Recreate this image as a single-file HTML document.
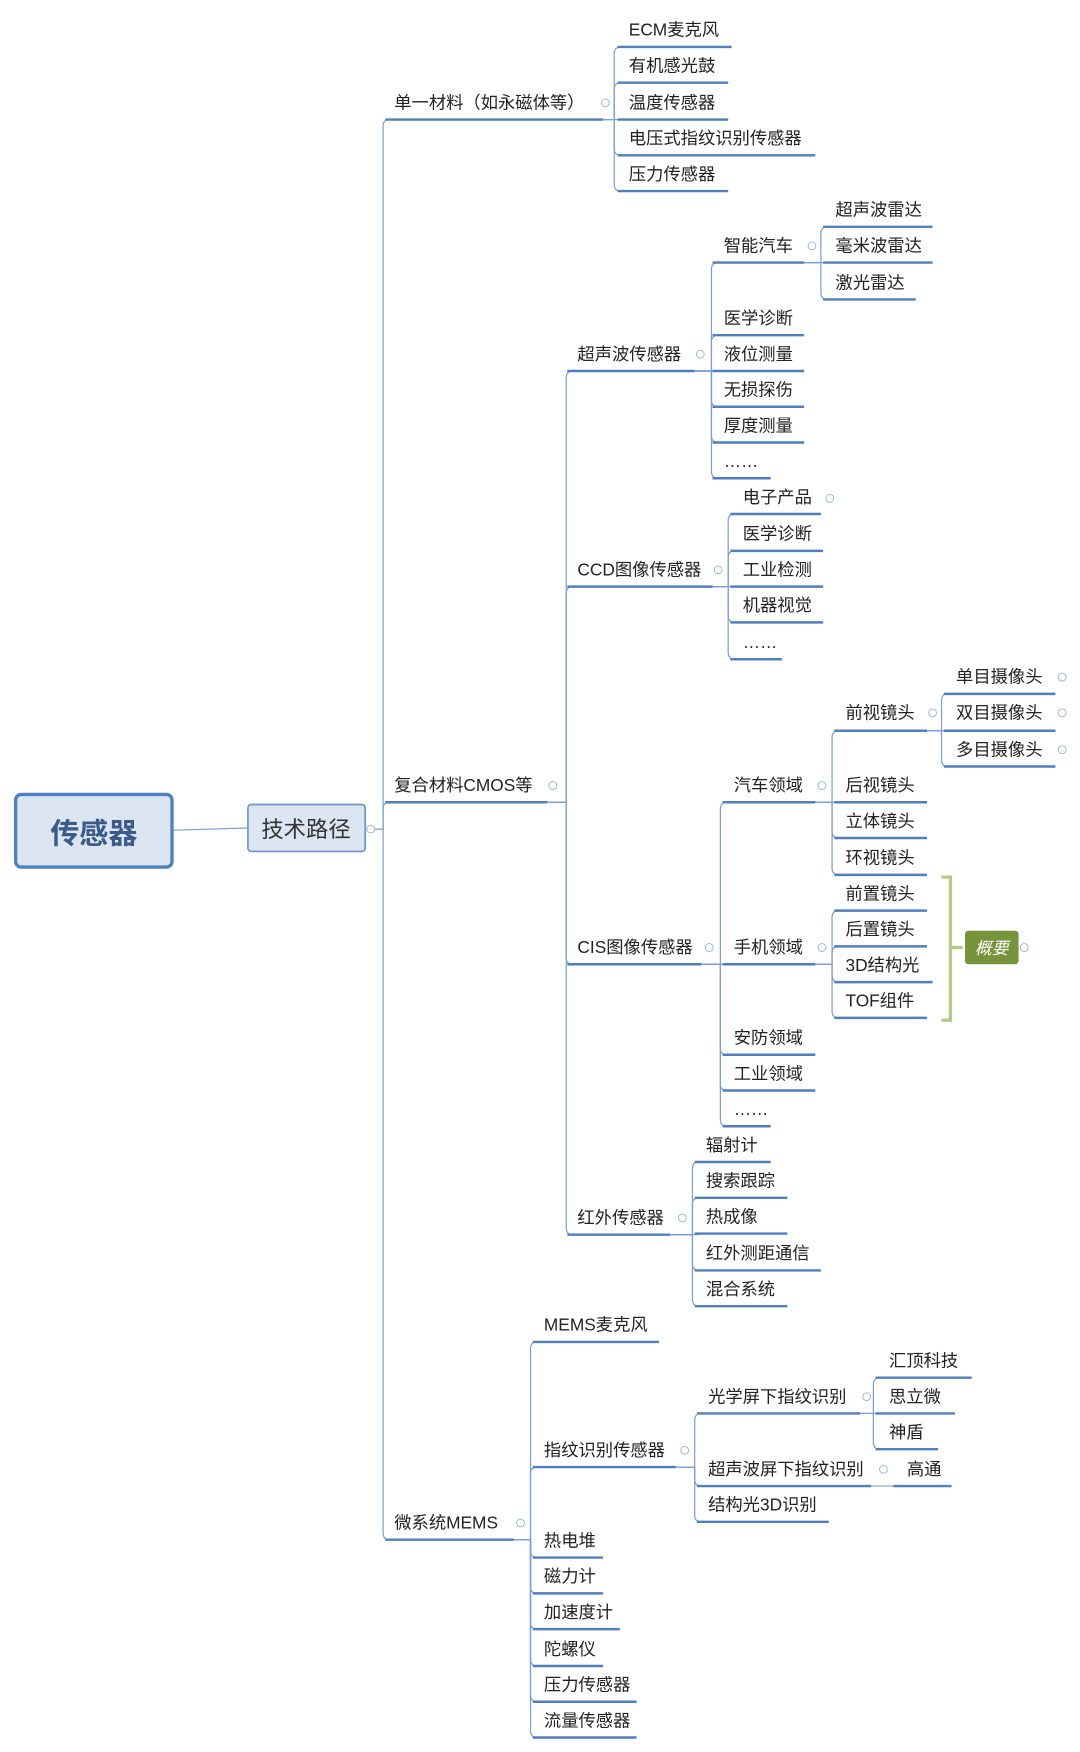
<!DOCTYPE html>
<html><head><meta charset="utf-8"><style>
html,body{margin:0;padding:0;background:#fff;}
svg{display:block;}
text{font-family:"Liberation Sans","Noto Sans CJK SC",sans-serif;font-size:15.5px;fill:#222;}
.u{stroke:#4f7fbe;stroke-width:2.2;}
.c{fill:none;stroke:#7f9fcb;stroke-width:1.1;}
.e{fill:#fff;stroke:#9ab0d0;stroke-width:0.8;}
</style></head><body>
<svg width="1080" height="1752" viewBox="0 0 967 1568" preserveAspectRatio="none" xmlns="http://www.w3.org/2000/svg">
<g class="c">
<path d="M155 743 L222 741"/>
<path d="M336 742 H343 V113 Q343 107 349 107"/>
<path d="M336 742 H343 V724 Q343 718 349 718"/>
<path d="M336 742 H343 V1372 Q343 1378 349 1378"/>
<path d="M540 107 H550 V48 Q550 42 556 42"/>
<path d="M540 107 H550 V80 Q550 74 556 74"/>
<path d="M540 107 H556"/>
<path d="M540 107 H550 V133 Q550 139 556 139"/>
<path d="M540 107 H550 V165 Q550 171 556 171"/>
<path d="M490 718 H507 V338 Q507 332 513 332"/>
<path d="M490 718 H507 V531 Q507 525 513 525"/>
<path d="M490 718 H507 V857 Q507 863 513 863"/>
<path d="M490 718 H507 V1099 Q507 1105 513 1105"/>
<path d="M622 332 H637 V241 Q637 235 643 235"/>
<path d="M622 332 H637 V306 Q637 300 643 300"/>
<path d="M622 332 H643"/>
<path d="M622 332 H637 V358 Q637 364 643 364"/>
<path d="M622 332 H637 V390 Q637 396 643 396"/>
<path d="M622 332 H637 V422 Q637 428 643 428"/>
<path d="M720 235 H735 V209 Q735 203 741 203"/>
<path d="M720 235 H741"/>
<path d="M720 235 H735 V262 Q735 268 741 268"/>
<path d="M638 525 H652 V466 Q652 460 658 460"/>
<path d="M638 525 H652 V499 Q652 493 658 493"/>
<path d="M638 525 H658"/>
<path d="M638 525 H652 V551 Q652 557 658 557"/>
<path d="M638 525 H652 V584 Q652 590 658 590"/>
<path d="M628 863 H645 V724 Q645 718 651 718"/>
<path d="M628 863 H651"/>
<path d="M628 863 H645 V938 Q645 944 651 944"/>
<path d="M628 863 H645 V970 Q645 976 651 976"/>
<path d="M628 863 H645 V1002 Q645 1008 651 1008"/>
<path d="M730 718 H745 V660 Q745 654 751 654"/>
<path d="M730 718 H751"/>
<path d="M730 718 H745 V744 Q745 750 751 750"/>
<path d="M730 718 H745 V777 Q745 783 751 783"/>
<path d="M830 654 H843 V627 Q843 621 849 621"/>
<path d="M830 654 H849"/>
<path d="M830 654 H843 V680 Q843 686 849 686"/>
<path d="M730 863 H745 V821 Q745 815 751 815"/>
<path d="M730 863 H745 V853 Q745 847 751 847"/>
<path d="M730 863 H745 V873 Q745 879 751 879"/>
<path d="M730 863 H745 V905 Q745 911 751 911"/>
<path d="M600 1105 H620 V1046 Q620 1040 626 1040"/>
<path d="M600 1105 H620 V1078 Q620 1072 626 1072"/>
<path d="M600 1105 H626"/>
<path d="M600 1105 H620 V1131 Q620 1137 626 1137"/>
<path d="M600 1105 H620 V1163 Q620 1169 626 1169"/>
<path d="M460 1378 H475 V1207 Q475 1201 481 1201"/>
<path d="M460 1378 H475 V1319 Q475 1313 481 1313"/>
<path d="M460 1378 H475 V1388 Q475 1394 481 1394"/>
<path d="M460 1378 H475 V1420 Q475 1426 481 1426"/>
<path d="M460 1378 H475 V1452 Q475 1458 481 1458"/>
<path d="M460 1378 H475 V1485 Q475 1491 481 1491"/>
<path d="M460 1378 H475 V1517 Q475 1523 481 1523"/>
<path d="M460 1378 H475 V1549 Q475 1555 481 1555"/>
<path d="M605 1313 H622 V1271 Q622 1265 628 1265"/>
<path d="M605 1313 H622 V1324 Q622 1330 628 1330"/>
<path d="M605 1313 H622 V1356 Q622 1362 628 1362"/>
<path d="M770 1265 H782 V1239 Q782 1233 788 1233"/>
<path d="M770 1265 H788"/>
<path d="M770 1265 H782 V1291 Q782 1297 788 1297"/>
<path d="M780 1330 H800"/>
</g>

<rect x="14" y="711" width="140" height="65" rx="5" fill="#dce6f2" stroke="#4f81bd" stroke-width="3"/>
<text x="84" y="755" text-anchor="middle" style="font-size:26px;font-weight:bold;fill:#3a5a8a">传感器</text>
<rect x="222" y="720" width="105" height="42" rx="3" fill="#dce6f2" stroke="#6f93c3" stroke-width="1.5"/>
<text x="274" y="749" text-anchor="middle" style="font-size:20px;fill:#333">技术路径</text>

<g>
<text x="353" y="97">单一材料（如永磁体等）</text><line class="u" x1="345" y1="107" x2="540" y2="107"/>
<text x="353" y="708">复合材料CMOS等</text><line class="u" x1="345" y1="718" x2="490" y2="718"/>
<text x="353" y="1368">微系统MEMS</text><line class="u" x1="345" y1="1378" x2="460" y2="1378"/>

<text x="563" y="32">ECM麦克风</text><line class="u" x1="553" y1="42" x2="655" y2="42"/>
<text x="563" y="64">有机感光鼓</text><line class="u" x1="553" y1="74" x2="652" y2="74"/>
<text x="563" y="97">温度传感器</text><line class="u" x1="553" y1="107" x2="652" y2="107"/>
<text x="563" y="129">电压式指纹识别传感器</text><line class="u" x1="553" y1="139" x2="730" y2="139"/>
<text x="563" y="161">压力传感器</text><line class="u" x1="553" y1="171" x2="652" y2="171"/>

<text x="517" y="322">超声波传感器</text><line class="u" x1="508" y1="332" x2="622" y2="332"/>
<text x="517" y="515">CCD图像传感器</text><line class="u" x1="508" y1="525" x2="638" y2="525"/>
<text x="517" y="853">CIS图像传感器</text><line class="u" x1="508" y1="863" x2="628" y2="863"/>
<text x="517" y="1095">红外传感器</text><line class="u" x1="508" y1="1105" x2="600" y2="1105"/>

<text x="648" y="225">智能汽车</text><line class="u" x1="638" y1="235" x2="720" y2="235"/>
<text x="648" y="290">医学诊断</text><line class="u" x1="638" y1="300" x2="720" y2="300"/>
<text x="648" y="322">液位测量</text><line class="u" x1="638" y1="332" x2="720" y2="332"/>
<text x="648" y="354">无损探伤</text><line class="u" x1="638" y1="364" x2="720" y2="364"/>
<text x="648" y="386">厚度测量</text><line class="u" x1="638" y1="396" x2="720" y2="396"/>
<text x="648" y="418">……</text><line class="u" x1="638" y1="428" x2="690" y2="428"/>

<text x="748" y="193">超声波雷达</text><line class="u" x1="737" y1="203" x2="835" y2="203"/>
<text x="748" y="225">毫米波雷达</text><line class="u" x1="737" y1="235" x2="835" y2="235"/>
<text x="748" y="258">激光雷达</text><line class="u" x1="737" y1="268" x2="820" y2="268"/>

<text x="665" y="450">电子产品</text><line class="u" x1="654" y1="460" x2="735" y2="460"/>
<text x="665" y="483">医学诊断</text><line class="u" x1="654" y1="493" x2="737" y2="493"/>
<text x="665" y="515">工业检测</text><line class="u" x1="654" y1="525" x2="737" y2="525"/>
<text x="665" y="547">机器视觉</text><line class="u" x1="654" y1="557" x2="737" y2="557"/>
<text x="665" y="580">……</text><line class="u" x1="654" y1="590" x2="700" y2="590"/>

<text x="657" y="708">汽车领域</text><line class="u" x1="647" y1="718" x2="730" y2="718"/>
<text x="657" y="853">手机领域</text><line class="u" x1="647" y1="863" x2="730" y2="863"/>
<text x="657" y="934">安防领域</text><line class="u" x1="647" y1="944" x2="730" y2="944"/>
<text x="657" y="966">工业领域</text><line class="u" x1="647" y1="976" x2="730" y2="976"/>
<text x="657" y="998">……</text><line class="u" x1="647" y1="1008" x2="690" y2="1008"/>

<text x="757" y="643">前视镜头</text><line class="u" x1="747" y1="654" x2="830" y2="654"/>
<text x="757" y="708">后视镜头</text><line class="u" x1="747" y1="718" x2="830" y2="718"/>
<text x="757" y="740">立体镜头</text><line class="u" x1="747" y1="750" x2="830" y2="750"/>
<text x="757" y="773">环视镜头</text><line class="u" x1="747" y1="783" x2="830" y2="783"/>

<text x="856" y="611">单目摄像头</text><line class="u" x1="845" y1="621" x2="945" y2="621"/>
<text x="856" y="643">双目摄像头</text><line class="u" x1="845" y1="654" x2="945" y2="654"/>
<text x="856" y="676">多目摄像头</text><line class="u" x1="845" y1="686" x2="945" y2="686"/>

<text x="757" y="805">前置镜头</text><line class="u" x1="747" y1="815" x2="830" y2="815"/>
<text x="757" y="837">后置镜头</text><line class="u" x1="747" y1="847" x2="830" y2="847"/>
<text x="757" y="869">3D结构光</text><line class="u" x1="747" y1="879" x2="835" y2="879"/>
<text x="757" y="901">TOF组件</text><line class="u" x1="747" y1="911" x2="830" y2="911"/>

<text x="632" y="1030">辐射计</text><line class="u" x1="622" y1="1040" x2="690" y2="1040"/>
<text x="632" y="1062">搜索跟踪</text><line class="u" x1="622" y1="1072" x2="705" y2="1072"/>
<text x="632" y="1094">热成像</text><line class="u" x1="622" y1="1104" x2="705" y2="1104"/>
<text x="632" y="1127">红外测距通信</text><line class="u" x1="622" y1="1137" x2="735" y2="1137"/>
<text x="632" y="1159">混合系统</text><line class="u" x1="622" y1="1169" x2="705" y2="1169"/>

<text x="487" y="1191">MEMS麦克风</text><line class="u" x1="477" y1="1201" x2="590" y2="1201"/>
<text x="487" y="1303">指纹识别传感器</text><line class="u" x1="477" y1="1313" x2="605" y2="1313"/>
<text x="487" y="1384">热电堆</text><line class="u" x1="477" y1="1394" x2="540" y2="1394"/>
<text x="487" y="1416">磁力计</text><line class="u" x1="477" y1="1426" x2="540" y2="1426"/>
<text x="487" y="1448">加速度计</text><line class="u" x1="477" y1="1458" x2="555" y2="1458"/>
<text x="487" y="1481">陀螺仪</text><line class="u" x1="477" y1="1491" x2="540" y2="1491"/>
<text x="487" y="1513">压力传感器</text><line class="u" x1="477" y1="1523" x2="570" y2="1523"/>
<text x="487" y="1545">流量传感器</text><line class="u" x1="477" y1="1555" x2="570" y2="1555"/>

<text x="634" y="1255">光学屏下指纹识别</text><line class="u" x1="624" y1="1265" x2="770" y2="1265"/>
<text x="634" y="1320">超声波屏下指纹识别</text><line class="u" x1="624" y1="1330" x2="780" y2="1330"/>
<text x="634" y="1352">结构光3D识别</text><line class="u" x1="624" y1="1362" x2="742" y2="1362"/>

<text x="796" y="1223">汇顶科技</text><line class="u" x1="784" y1="1233" x2="870" y2="1233"/>
<text x="796" y="1255">思立微</text><line class="u" x1="784" y1="1265" x2="855" y2="1265"/>
<text x="796" y="1287">神盾</text><line class="u" x1="784" y1="1297" x2="840" y2="1297"/>
<text x="812" y="1320">高通</text><line class="u" x1="800" y1="1330" x2="852" y2="1330"/>
</g>

<path d="M843 785 H851 V913 H843 M851 848 H862" fill="none" stroke="#b5c98a" stroke-width="3"/>
<rect x="864" y="833" width="48" height="30" rx="3" fill="#77933c"/>
<text x="888" y="854" text-anchor="middle" style="fill:#fff;font-style:italic;font-size:15px">概要</text>

<g class="e">
<circle cx="332" cy="742" r="3.5"/><circle cx="542" cy="92" r="3.5"/><circle cx="495" cy="703" r="3.5"/>
<circle cx="466" cy="1363" r="3.5"/><circle cx="627" cy="317" r="3.5"/><circle cx="643" cy="510" r="3.5"/>
<circle cx="635" cy="848" r="3.5"/><circle cx="611" cy="1090" r="3.5"/><circle cx="727" cy="220" r="3.5"/>
<circle cx="743" cy="446" r="3.5"/><circle cx="736" cy="703" r="3.5"/><circle cx="736" cy="848" r="3.5"/>
<circle cx="835" cy="638" r="3.5"/><circle cx="951" cy="606" r="3.5"/><circle cx="951" cy="638" r="3.5"/>
<circle cx="951" cy="671" r="3.5"/><circle cx="917" cy="848" r="3.5"/><circle cx="613" cy="1298" r="3.5"/>
<circle cx="776" cy="1250" r="3.5"/><circle cx="791" cy="1315" r="3.5"/>
</g>
</svg>
</body></html>
